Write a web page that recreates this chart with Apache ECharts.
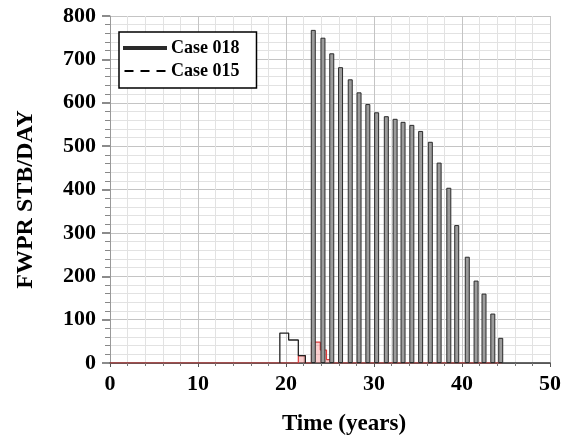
<!DOCTYPE html>
<html>
<head>
<meta charset="utf-8">
<script src="https://cdn.jsdelivr.net/npm/echarts@6/dist/echarts.min.js"></script>
<style>
html,body{margin:0;padding:0;background:#fff;}
#c{width:573px;height:441px;}
</style>
</head>
<body>
<div id="c"></div>
<script>
// ---- data ----
const xTicks = [0, 10, 20, 30, 40, 50];
const yTicks = [0, 100, 200, 300, 400, 500, 600, 700, 800];
// Case 018: tall cyclic bars (time in years, rate STB/DAY)
const case018BarYears = [23.1, 24.2, 25.2, 26.2, 27.3, 28.3, 29.3, 30.3, 31.4, 32.4, 33.3, 34.3, 35.3, 36.4, 37.4, 38.5, 39.4, 40.6, 41.6, 42.5, 43.5, 44.4];
const case018BarValues = [768, 750, 714, 682, 654, 624, 597, 578, 569, 563, 556, 549, 535, 510, 462, 404, 318, 245, 190, 160, 114, 58];
// Case 018: early step outline
const case018StepYears = [19.3, 19.3, 20.3, 20.3, 21.4, 21.4, 22.2, 22.2];
const case018StepValues = [0, 69, 69, 53, 53, 17, 17, 0];
// Case 015: low rate step profile
const case015Years = [0, 21.4, 21.4, 22.2, 22.2, 22.9, 22.9, 23.9, 23.9, 24.6, 24.6, 25.2, 25.2, 44.5];
const case015Values = [0, 0, 17, 17, 0, 0, 48, 48, 30, 30, 8, 8, 0, 0];
const legendNames = ['Case 018', 'Case 015'];

const zip = (a, b) => a.map((v, i) => [v, b[i]]);
const FONT = '"Liberation Serif", "Times New Roman", serif';

const chart = echarts.init(document.getElementById('c'), null, {renderer: 'canvas'});
chart.setOption({
  animation: false,
  backgroundColor: '#ffffff',
  grid: {left: 110, right: 23, top: 16, bottom: 76, containLabel: false},
  legend: {
    orient: 'vertical',
    left: 119, top: 32,
    padding: [7, 17, 8, 4],
    itemGap: 5,
    itemWidth: 42, itemHeight: 2,
    itemTextGap: 6,
    borderColor: '#000', borderWidth: 1.5,
    backgroundColor: '#fff',
    textStyle: {fontFamily: FONT, fontWeight: 'bold', fontSize: 18, color: '#000'},
    data: [
      {name: legendNames[0], icon: 'path://M0 0H42V2H0Z', itemStyle: {color: '#000'}},
      {name: legendNames[1], icon: 'path://M0 0H9V2H0Z M16 0H25V2H16Z M32 0H41V2H32Z', itemStyle: {color: '#000'}}
    ]
  },
  xAxis: {
    type: 'value', min: 0, max: 50, interval: 10,
    name: 'Time (years)', nameLocation: 'middle', nameGap: 50,
    nameTextStyle: {fontFamily: FONT, fontWeight: 'bold', fontSize: 23, color: '#000', padding: [0, 0, 0, 28]},
    axisLine: {show: true, lineStyle: {color: '#333', width: 1.5}},
    axisTick: {show: true, length: 4, lineStyle: {color: '#555'}},
    minorTick: {show: true, splitNumber: 5, length: 3, lineStyle: {color: '#777'}},
    axisLabel: {
      margin: 10, fontFamily: FONT, fontWeight: 'bold', fontSize: 22, color: '#000',
      formatter: v => xTicks.includes(v) ? String(v) : ''
    },
    splitLine: {show: true, lineStyle: {color: '#c4c4c4', width: 1}},
    minorSplitLine: {show: true, lineStyle: {color: '#e2e2e2', width: 1}}
  },
  yAxis: {
    type: 'value', min: 0, max: 800, interval: 100,
    name: 'FWPR STB/DAY', nameLocation: 'middle', nameGap: 72, nameRotate: 90,
    nameTextStyle: {fontFamily: FONT, fontWeight: 'bold', fontSize: 24, color: '#000', padding: [0, 20, 0, 0]},
    axisLine: {show: true, lineStyle: {color: '#999', width: 1}},
    axisTick: {show: true, length: 8, lineStyle: {color: '#666', width: 1.5}},
    minorTick: {show: true, splitNumber: 5, length: 5, lineStyle: {color: '#888'}},
    axisLabel: {
      margin: 14, fontFamily: FONT, fontWeight: 'bold', fontSize: 22, color: '#000',
      formatter: v => yTicks.includes(v) ? String(v) : ''
    },
    splitLine: {show: true, lineStyle: {color: '#c4c4c4', width: 1}},
    minorSplitLine: {show: true, lineStyle: {color: '#e2e2e2', width: 1}}
  },
  series: [
    {
      name: legendNames[1], type: 'line', symbol: 'none', z: 2,
      data: zip(case015Years, case015Values),
      itemStyle: {color: '#e03a3a'},
      lineStyle: {color: '#e03a3a', width: 1.2},
      areaStyle: {color: 'rgba(240,100,100,0.45)'}
    },
    {
      name: legendNames[0], type: 'bar', z: 3,
      barWidth: 5,
      data: zip(case018BarYears, case018BarValues),
      itemStyle: {color: '#9c9c9c', borderColor: '#2a2a2a', borderWidth: 1}
    },
    {
      name: legendNames[0], type: 'line', symbol: 'none', z: 4,
      data: zip(case018StepYears, case018StepValues),
      itemStyle: {color: '#222'},
      lineStyle: {color: '#222', width: 1.3}
    }
  ]
});
</script>
</body>
</html>
